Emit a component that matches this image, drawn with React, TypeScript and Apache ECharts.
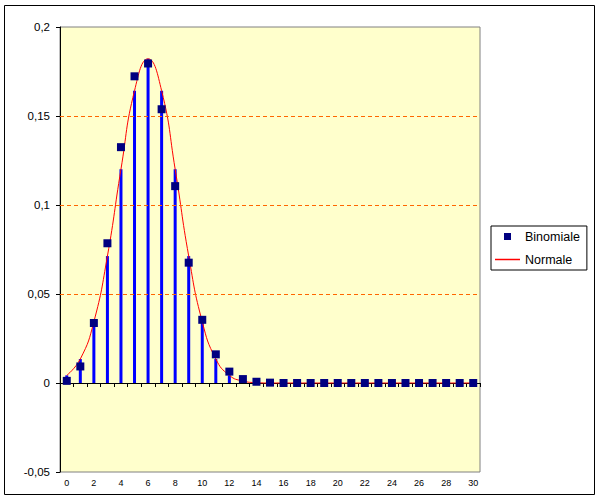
import React, { useEffect, useRef } from "react";
import * as echarts from "echarts";

const categories = ["0","1","2","3","4","5","6","7","8","9","10","11","12","13","14","15","16","17","18","19","20","21","22","23","24","25","26","27","28","29","30"];
const binomiale = [0.0012, 0.0093, 0.0337, 0.0785, 0.1325, 0.1723, 0.1795, 0.1538, 0.1106, 0.0676, 0.0355, 0.0161, 0.0064, 0.0022, 0.0007, 0.0002, 0, 0, 0, 0, 0, 0, 0, 0, 0, 0, 0, 0, 0, 0, 0];
const normale = [0.0043, 0.0135, 0.0344, 0.0713, 0.1201, 0.1642, 0.1821, 0.1642, 0.1201, 0.0713, 0.0344, 0.0135, 0.0043, 0.0011, 0.0002, 0, 0, 0, 0, 0, 0, 0, 0, 0, 0, 0, 0, 0, 0, 0, 0];
const gridLines = [0.05, 0.1, 0.15];

const FONT = "Liberation Sans, Arial, sans-serif";

export default function App() {
  const ref = useRef<HTMLDivElement>(null);
  useEffect(() => {
    if (!ref.current) return;
    const chart = echarts.init(ref.current, undefined, { renderer: "svg" });
    chart.setOption({
      animation: false,
      backgroundColor: "#ffffff",
      textStyle: { fontFamily: FONT },
      grid: {
        left: 60, right: 120, top: 27, bottom: 28,
        show: true, backgroundColor: "#FFFFCC", borderColor: "#808080", borderWidth: 1,
        containLabel: false,
      },
      legend: {
        orient: "vertical",
        left: 491, top: 226,
        padding: [4, 7, 4, 4],
        itemGap: 10,
        itemWidth: 25, itemHeight: 7,
        symbolKeepAspect: true,
        borderColor: "#000000", borderWidth: 1,
        backgroundColor: "#ffffff",
        textStyle: { fontSize: 12.5, color: "#000", fontFamily: FONT },
        data: [
          { name: "Binomiale", icon: "path://M0,0 L10,0 L10,10 L0,10 Z", itemStyle: { color: "#000080", opacity: 1 } },
          { name: "Normale", icon: "path://M0,0 L25,0 L25,1.5 L0,1.5 Z", itemStyle: { color: "#FF0000", opacity: 1 } },
        ],
      },
      xAxis: {
        type: "category",
        data: categories,
        boundaryGap: true,
        axisLine: { show: true, onZero: true, lineStyle: { color: "#000", width: 1 } },
        axisTick: { show: true, interval: 0, length: 4, lineStyle: { color: "#000" } },
        axisLabel: { interval: 1, fontSize: 9, color: "#000", margin: 6, fontFamily: FONT },
        splitLine: { show: false },
      },
      yAxis: {
        type: "value",
        min: -0.05, max: 0.2, interval: 0.05,
        axisLine: { show: true, onZero: false, lineStyle: { color: "#000", width: 1 } },
        axisTick: { show: true, length: 4, lineStyle: { color: "#000" } },
        axisLabel: {
          fontSize: 11.5, color: "#000", margin: 10, fontFamily: FONT,
          formatter: (v: number) => String(Math.round(v * 100) / 100).replace(".", ","),
        },
        splitLine: { show: false },
      },
      graphic: [
        {
          type: "rect",
          shape: { x: 4.5, y: 5.5, width: 590, height: 489 },
          style: { fill: "none", stroke: "#000", lineWidth: 1 },
          silent: true,
          z: 100,
        },
      ],
      series: [
        {
          name: "drop",
          type: "bar",
          data: normale,
          barWidth: 3,
          itemStyle: { color: "#0000FF" },
          z: 2,
          markLine: {
            silent: true,
            symbol: ["none", "none"],
            label: { show: false },
            lineStyle: { color: "#FF6600", type: [4, 3], width: 1 },
            data: gridLines.map((v) => ({ yAxis: v })),
          },
        },
        {
          name: "Normale",
          type: "line",
          data: normale,
          smooth: true,
          symbol: "none",
          lineStyle: { color: "#FF0000", width: 1 },
          itemStyle: { color: "#FF0000" },
          z: 3,
        },
        {
          name: "Binomiale",
          type: "scatter",
          data: binomiale,
          symbol: "rect",
          symbolSize: 8,
          itemStyle: { color: "#000080", opacity: 1 },
          z: 4,
        },
      ],
    });
    return () => chart.dispose();
  }, []);
  return (
    <div
      ref={ref}
      style={{ position: "fixed", left: 0, top: 0, width: 600, height: 500 }}
    />
  );
}
